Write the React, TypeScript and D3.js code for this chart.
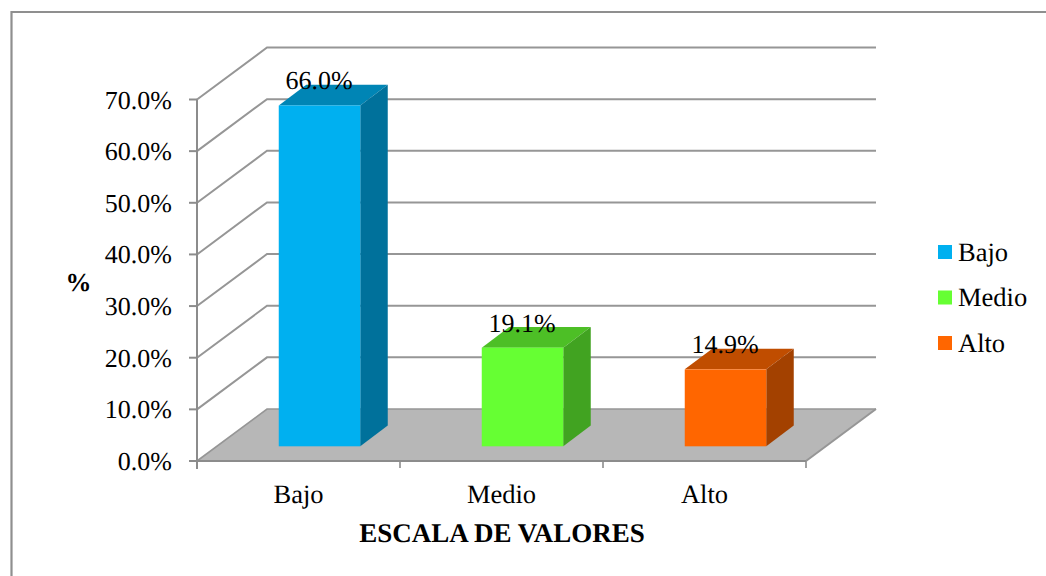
import React from "react";
import * as d3 from "d3";

const categories = ["Bajo", "Medio", "Alto"];
const values = [66.0, 19.1, 14.9];
const colors = ["#00b0f0", "#66ff33", "#ff6600"];
const topColors = ["#0085b5", "#4dbf26", "#c04d00"];
const sideColors = ["#00719b", "#41a321", "#a34100"];
const yTicks = [0, 10, 20, 30, 40, 50, 60, 70];

const FONT = "'Liberation Serif', 'Times New Roman', serif";
const GRID = "#969696";
const AXIS = "#8c8c8c";

const x = d3.scaleBand<string>().domain(categories).range([197, 806]);
const y = d3.scaleLinear().domain([0, 70]).range([461, 99.5]);
const wall = { dx: 70, dy: -52 };
const inset = { dx: 21, dy: -14.7 };
const depth = { dx: 27.5, dy: -20.7 };
const barW = 81.5;

const pts = (p: number[][]) => p.map((d) => d.join(",")).join(" ");

export default function App() {
  const x0 = x.range()[0];
  const x1 = x.range()[1];
  const y0 = y(0);
  return (
    <svg
      width={1046}
      height={576}
      style={{ position: "absolute", left: 0, top: 0, background: "#fff", textRendering: "geometricPrecision" }}
      fontFamily={FONT}
      fill="#000"
    >
      <path d="M11.5,576V12H1046" fill="none" stroke="#8f8f8f" strokeWidth={2.2} />

      <polygon
        points={pts([
          [x0, y0],
          [x0 + wall.dx, y0 + wall.dy],
          [x1 + wall.dx, y0 + wall.dy],
          [x1, y0],
        ])}
        fill="#b7b7b7"
      />

      {yTicks.map((t) => (
        <polyline
          key={t}
          points={pts([
            [x0, y(t)],
            [x0 + wall.dx, y(t) + wall.dy],
            [x1 + wall.dx, y(t) + wall.dy],
          ])}
          fill="none"
          stroke={GRID}
          strokeWidth={t === 0 ? 1.6 : 2}
        />
      ))}
      <line x1={x1} y1={y0} x2={x1 + wall.dx} y2={y0 + wall.dy} stroke={GRID} strokeWidth={2} />

      <line x1={x0} y1={y(70)} x2={x0} y2={y0 + 8} stroke={AXIS} strokeWidth={2} />
      <line x1={x0} y1={y0} x2={x1} y2={y0} stroke={AXIS} strokeWidth={2} />
      {yTicks.map((t) => (
        <line key={t} x1={x0 - 8} y1={y(t)} x2={x0} y2={y(t)} stroke={AXIS} strokeWidth={2} />
      ))}
      {[...categories.map((c) => x(c)!), x1].map((p, i) => (
        <line key={i} x1={p} y1={y0} x2={p} y2={y0 + 7} stroke={AXIS} strokeWidth={1.6} />
      ))}

      {yTicks.map((t) => (
        <text key={t} x={172} y={y(t) + 9} textAnchor="end" fontSize={26}>
          {d3.format(".1f")(t)}%
        </text>
      ))}

      {categories.map((c, i) => {
        const cx = x(c)! + x.bandwidth() / 2 + inset.dx;
        const l = cx - barW / 2;
        const r = cx + barW / 2;
        const b = y0 + inset.dy;
        const t = b - (y0 - y(values[i]));
        return (
          <g key={c}>
            <polygon
              points={pts([
                [l, t],
                [l + depth.dx, t + depth.dy],
                [r + depth.dx, t + depth.dy],
                [r, t],
              ])}
              fill={topColors[i]}
            />
            <polygon
              points={pts([
                [r, t],
                [r + depth.dx, t + depth.dy],
                [r + depth.dx, b + depth.dy],
                [r, b],
              ])}
              fill={sideColors[i]}
            />
            <rect x={l} y={t} width={barW} height={b - t} fill={colors[i]} />
            <text x={cx - 0.5} y={t - 16} textAnchor="middle" fontSize={26}>
              {d3.format(".1f")(values[i])}%
            </text>
            <text x={x(c)! + x.bandwidth() / 2} y={503} textAnchor="middle" fontSize={26.5}>
              {c}
            </text>
          </g>
        );
      })}

      <text x={78.5} y={291} textAnchor="middle" fontSize={26} fontWeight="bold">
        %
      </text>
      <text x={502} y={542} textAnchor="middle" fontSize={27} fontWeight="bold">
        ESCALA DE VALORES
      </text>

      {categories.map((c, i) => {
        const ly = d3.scaleOrdinal<string, number>().domain(categories).range([245, 290.5, 336])(c);
        return (
          <g key={c}>
            <rect x={938} y={ly} width={14} height={14} fill={colors[i]} />
            <text x={958} y={ly + 15.5} fontSize={26.5}>
              {c}
            </text>
          </g>
        );
      })}
    </svg>
  );
}
